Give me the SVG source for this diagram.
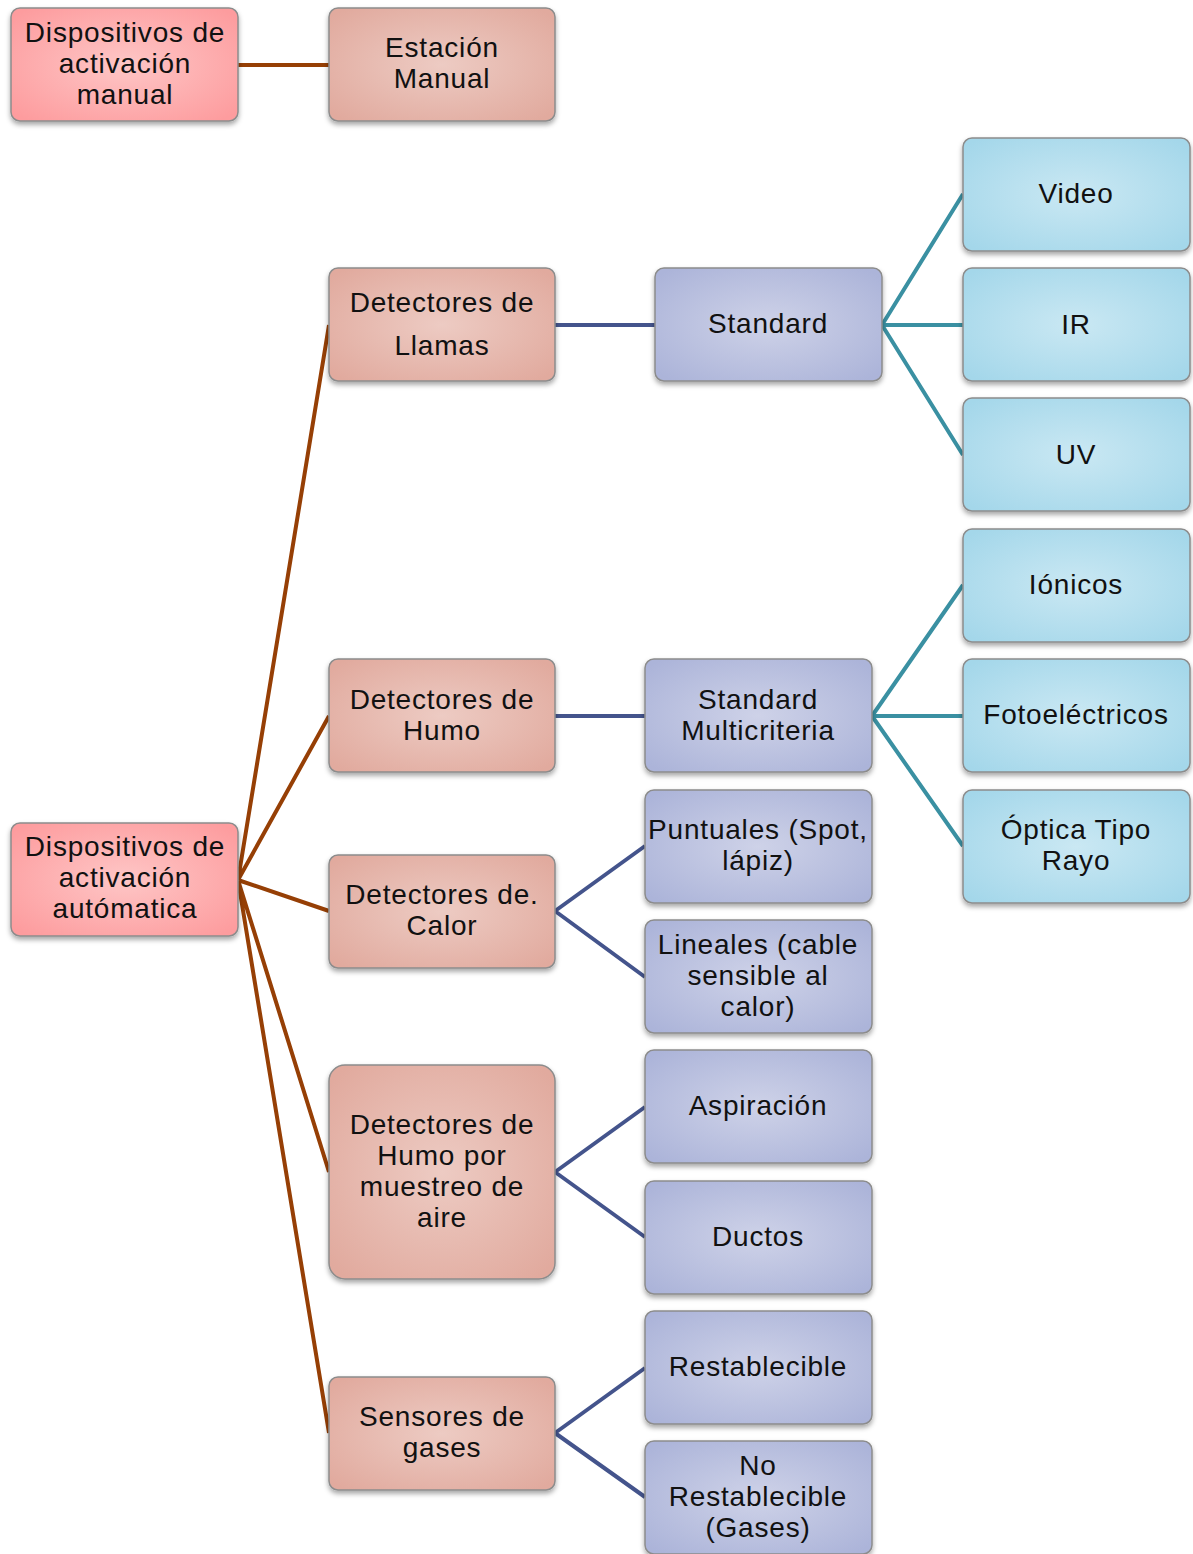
<svg xmlns="http://www.w3.org/2000/svg" width="1193" height="1554" viewBox="0 0 1193 1554">
<defs>
<radialGradient id="gRoot" cx="50%" cy="50%" r="65%"><stop offset="0" stop-color="#fec6c6"/><stop offset="1" stop-color="#fd9c9e"/></radialGradient>
<radialGradient id="gL1" cx="50%" cy="50%" r="65%"><stop offset="0" stop-color="#edcbc3"/><stop offset="1" stop-color="#e1aa9e"/></radialGradient>
<radialGradient id="gL2" cx="50%" cy="50%" r="65%"><stop offset="0" stop-color="#ced2e8"/><stop offset="1" stop-color="#acb4d9"/></radialGradient>
<radialGradient id="gL3" cx="50%" cy="50%" r="65%"><stop offset="0" stop-color="#cae8f3"/><stop offset="1" stop-color="#a4d7ea"/></radialGradient>
<filter id="sh" x="-10%" y="-10%" width="120%" height="130%"><feDropShadow dx="0" dy="3" stdDeviation="2.5" flood-color="#000" flood-opacity="0.35"/></filter>
</defs>
<style>
rect{stroke:#8c8c8c;stroke-width:1.5;filter:url(#sh)}
.r{fill:url(#gRoot)}.a{fill:url(#gL1)}.b{fill:url(#gL2)}.c{fill:url(#gL3)}
text{font-family:"Liberation Sans",Arial,sans-serif;font-size:28px;letter-spacing:0.8px;fill:#111;text-anchor:middle}
.br{stroke:#963f05;stroke-width:4;fill:none}
.nv{stroke:#44548c;stroke-width:4;fill:none}
.tl{stroke:#3a90a2;stroke-width:4;fill:none}
</style>
<g id="connectors">
<line class="br" x1="238" y1="65" x2="329" y2="65"/>
<path class="br" d="M238 880 L329 325 M238 880 L329 716 M238 880 L329 911 M238 880 L329 1172 M238 880 L329 1433"/>
<path class="nv" d="M555 325 L655 325 M555 716 L645 716 M555 911 L645 846 M555 911 L645 977 M555 1172 L645 1107 M555 1172 L645 1237 M555 1433 L645 1368 M555 1433 L645 1497"/>
<path class="tl" d="M882 325 L963 194 M882 325 L963 325 M882 325 L963 455 M872 716 L963 585 M872 716 L963 716 M872 716 L963 846"/>
</g>
<g id="n-manual"><rect class="r" x="11" y="8" width="227" height="113" rx="9"/><text x="125" y="42">Dispositivos de</text><text x="125" y="73">activación</text><text x="125" y="104">manual</text></g>
<g id="n-estacion"><rect class="a" x="329" y="8" width="226" height="113" rx="9"/><text x="442" y="57">Estación</text><text x="442" y="88">Manual</text></g>
<g id="n-auto"><rect class="r" x="11" y="823" width="227" height="113" rx="9"/><text x="125" y="856">Dispositivos de</text><text x="125" y="887">activación</text><text x="125" y="918">autómatica</text></g>
<g id="n-llamas"><rect class="a" x="329" y="268" width="226" height="113" rx="9"/><text x="442" y="312">Detectores de</text><text x="442" y="355">Llamas</text></g>
<g id="n-humo"><rect class="a" x="329" y="659" width="226" height="113" rx="9"/><text x="442" y="709">Detectores de</text><text x="442" y="740">Humo</text></g>
<g id="n-calor"><rect class="a" x="329" y="855" width="226" height="113" rx="9"/><text x="442" y="904">Detectores de.</text><text x="442" y="935">Calor</text></g>
<g id="n-muestreo"><rect class="a" x="329" y="1065" width="226" height="214" rx="16"/><text x="442" y="1134">Detectores de</text><text x="442" y="1165">Humo por</text><text x="442" y="1196">muestreo de</text><text x="442" y="1227">aire</text></g>
<g id="n-gases"><rect class="a" x="329" y="1377" width="226" height="113" rx="9"/><text x="442" y="1426">Sensores de</text><text x="442" y="1457">gases</text></g>
<g id="n-standard"><rect class="b" x="655" y="268" width="227" height="113" rx="9"/><text x="768" y="333">Standard</text></g>
<g id="n-multi"><rect class="b" x="645" y="659" width="227" height="113" rx="9"/><text x="758" y="709">Standard</text><text x="758" y="740">Multicriteria</text></g>
<g id="n-puntuales"><rect class="b" x="645" y="790" width="227" height="113" rx="9"/><text x="758" y="839">Puntuales (Spot,</text><text x="758" y="870">lápiz)</text></g>
<g id="n-lineales"><rect class="b" x="645" y="920" width="227" height="113" rx="9"/><text x="758" y="954">Lineales (cable</text><text x="758" y="985">sensible al</text><text x="758" y="1016">calor)</text></g>
<g id="n-aspiracion"><rect class="b" x="645" y="1050" width="227" height="113" rx="9"/><text x="758" y="1115">Aspiración</text></g>
<g id="n-ductos"><rect class="b" x="645" y="1181" width="227" height="113" rx="9"/><text x="758" y="1246">Ductos</text></g>
<g id="n-restab"><rect class="b" x="645" y="1311" width="227" height="113" rx="9"/><text x="758" y="1376">Restablecible</text></g>
<g id="n-norestab"><rect class="b" x="645" y="1441" width="227" height="113" rx="9"/><text x="758" y="1475">No</text><text x="758" y="1506">Restablecible</text><text x="758" y="1537">(Gases)</text></g>
<g id="n-video"><rect class="c" x="963" y="138" width="227" height="113" rx="9"/><text x="1076" y="203">Video</text></g>
<g id="n-ir"><rect class="c" x="963" y="268" width="227" height="113" rx="9"/><text x="1076" y="334">IR</text></g>
<g id="n-uv"><rect class="c" x="963" y="398" width="227" height="113" rx="9"/><text x="1076" y="464">UV</text></g>
<g id="n-ionicos"><rect class="c" x="963" y="529" width="227" height="113" rx="9"/><text x="1076" y="594">Iónicos</text></g>
<g id="n-foto"><rect class="c" x="963" y="659" width="227" height="113" rx="9"/><text x="1076" y="724">Fotoeléctricos</text></g>
<g id="n-optica"><rect class="c" x="963" y="790" width="227" height="113" rx="9"/><text x="1076" y="839">Óptica Tipo</text><text x="1076" y="870">Rayo</text></g>
</svg>
